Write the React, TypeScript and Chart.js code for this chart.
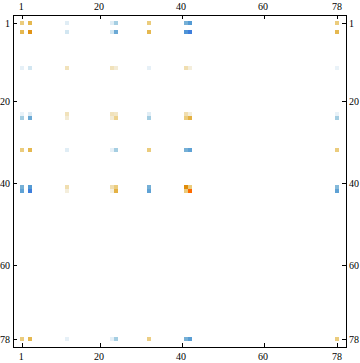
import React, { useEffect, useRef } from "react";
import { Chart, registerables } from "chart.js";

Chart.register(...registerables);

const tickValues = [1, 20, 40, 60, 78];
const cols = [1, 3, 12, 23, 24, 32, 41, 42, 78];
const rows = [1, 3, 12, 23, 24, 32, 41, 42, 78];
const row1 = [0.35, 0.5, -0.1, -0.1, -0.3, 0.35, -0.45, -0.6, 0.35];
const row3 = [0.5, 0.75, -0.15, -0.15, -0.5, 0.5, -0.65, -0.8, 0.5];
const row12 = [-0.08, -0.15, 0.17, 0.17, 0.1, -0.08, 0.2, 0.08, -0.07];
const row23 = [-0.07, -0.12, 0.17, 0.17, 0.14, -0.1, 0.2, 0.08, -0.07];
const row24 = [-0.3, -0.5, 0.1, 0.1, 0.3, -0.3, 0.35, 0.55, -0.3];
const row32 = [0.35, 0.5, -0.1, -0.08, -0.3, 0.35, -0.45, -0.55, 0.35];
const row41 = [-0.45, -0.6, 0.2, 0.2, 0.35, -0.45, 0.8, 0.35, -0.4];
const row42 = [-0.55, -0.8, 0.08, 0.07, 0.55, -0.55, 0.35, 1, -0.55];
const row78 = [0.35, 0.5, -0.08, -0.08, -0.3, 0.33, -0.45, -0.58, 0.35];
const matrix = [row1, row3, row12, row23, row24, row32, row41, row42, row78];

const posStops: [number, number[]][] = [
  [0, [255, 255, 255]],
  [0.08, [244, 238, 220]],
  [0.2, [240, 222, 176]],
  [0.35, [235, 204, 125]],
  [0.5, [229, 184, 80]],
  [0.8, [224, 140, 10]],
  [1, [255, 106, 0]],
];
const negStops: [number, number[]][] = [
  [0, [255, 255, 255]],
  [0.08, [230, 240, 247]],
  [0.15, [210, 230, 241]],
  [0.3, [165, 206, 226]],
  [0.45, [118, 176, 214]],
  [0.6, [84, 155, 212]],
  [0.8, [62, 126, 220]],
  [1, [40, 90, 220]],
];

function colorOf(v: number) {
  const stops = v >= 0 ? posStops : negStops;
  const a = Math.abs(v);
  for (let i = 1; i < stops.length; i++) {
    if (a <= stops[i][0]) {
      const [t0, c0] = stops[i - 1];
      const [t1, c1] = stops[i];
      const t = (a - t0) / (t1 - t0);
      const c = c0.map((u, k) => Math.round(u + (c1[k] - u) * t));
      return `rgb(${c[0]},${c[1]},${c[2]})`;
    }
  }
  return "rgb(255,106,0)";
}

const points = rows.flatMap((r, i) => cols.map((c, j) => ({ x: c, y: r, v: matrix[i][j] })));

const snapCells = {
  id: "snapCells",
  afterDatasetsUpdate(chart: any) {
    chart.getDatasetMeta(0).data.forEach((el: any) => {
      el.x = Math.round(el.x - 0.5);
      el.y = Math.round(el.y - 0.02);
    });
  },
};

const whiteBg = {
  id: "whiteBg",
  beforeDraw(chart: any) {
    const { ctx, width, height } = chart;
    ctx.save();
    ctx.fillStyle = "#fff";
    ctx.fillRect(0, 0, width, height);
    ctx.restore();
  },
};

const font = { family: "'Liberation Serif'", size: 10 };

function axis(position: string, min: number, max: number, size: number, reverse: boolean) {
  const horizontal = position === "top" || position === "bottom";
  return {
    type: "linear",
    position,
    min,
    max,
    reverse,
    afterBuildTicks(s: any) {
      s.ticks = tickValues.map((value) => ({ value }));
    },
    afterFit(s: any) {
      if (horizontal) s.height = size;
      else s.width = size;
    },
    grid: { drawOnChartArea: false, drawTicks: true, tickLength: -4, tickWidth: 1, tickColor: "#000" },
    border: { display: true, color: "#000", width: 1 },
    ticks: {
      color: "#000",
      font,
      autoSkip: false,
      maxRotation: 0,
      padding: position === "bottom" ? 8 : position === "top" ? 6 : 7,
      labelOffset: horizontal ? -1 : 1,
      callback: (v: number) => String(v),
    },
  };
}

export default function App() {
  const ref = useRef<HTMLCanvasElement>(null);
  useEffect(() => {
    const canvas = ref.current!;
    canvas.getContext("2d", { alpha: false });
    const chart = new Chart(canvas, {
      type: "scatter",
      data: {
        datasets: [
          {
            data: points as any,
            pointStyle: "rect",
            pointRadius: 2 * Math.SQRT2,
            borderWidth: 0,
            pointBorderWidth: 0,
            backgroundColor: (c: any) => colorOf(c.raw.v),
            xAxisID: "x",
            yAxisID: "y",
          } as any,
        ],
      },
      options: {
        animation: false,
        responsive: false,
        devicePixelRatio: 1,
        layout: { padding: 0 },
        plugins: { legend: { display: false }, title: { display: false }, tooltip: { enabled: false } },
        scales: {
          x: axis("bottom", -1.244, 79.976, 16, false),
          x2: axis("top", -1.244, 79.976, 15, false),
          y: axis("left", -1.049, 79.927, 13, true),
          y2: axis("right", -1.049, 79.927, 14, true),
        } as any,
      },
      plugins: [whiteBg, snapCells],
    });
    return () => chart.destroy();
  }, []);
  return (
    <div style={{ position: "fixed", left: 0, top: 0, width: 360, height: 363, overflow: "hidden" }}>
      <canvas ref={ref} width={360} height={363} style={{ display: "block", width: 360, height: 363 }} />
    </div>
  );
}
